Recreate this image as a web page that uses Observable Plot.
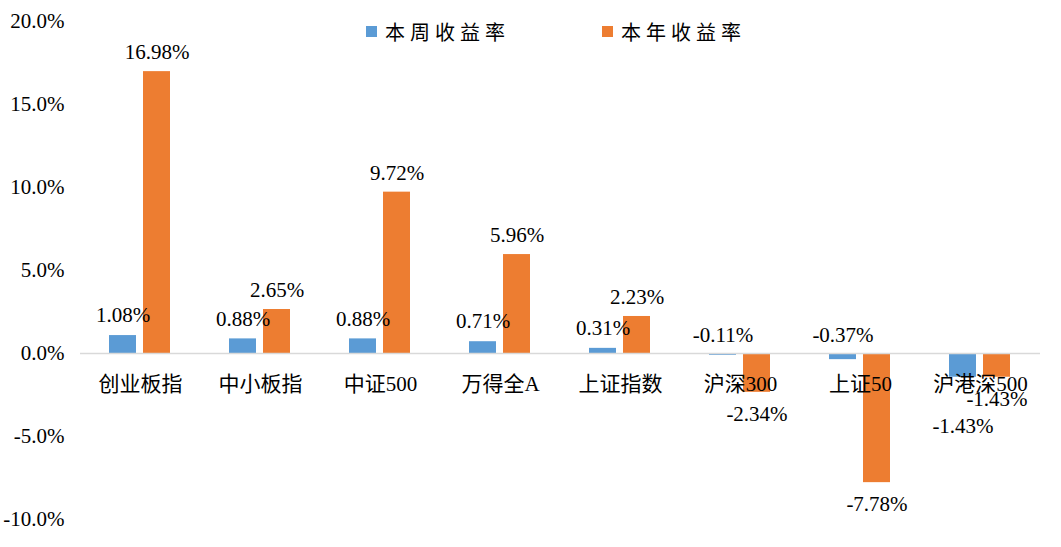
<!DOCTYPE html>
<html>
<head>
<meta charset="utf-8">
<script src="https://cdn.jsdelivr.net/npm/d3@7"></script>
<script src="https://cdn.jsdelivr.net/npm/@observablehq/plot@0.6"></script>
<style>
  body { margin: 0; background: #fff; }
  #wrap { position: relative; width: 1061px; height: 547px; }
  #legend { position: absolute; top: 17px; left: 366px; display: flex; font-family: "Liberation Serif", "Noto Sans CJK SC", serif; font-size: 20px; letter-spacing: 5px; color: #000; }
  .item { display: flex; align-items: center; }
  .sw { width: 11px; height: 11px; margin-right: 8px; }
</style>
</head>
<body>
<div id="wrap"><div id="legend"></div></div>
<script>
const categories = ["创业板指", "中小板指", "中证500", "万得全A", "上证指数", "沪深300", "上证50", "沪港深500"];
const weekly = [1.08, 0.88, 0.88, 0.71, 0.31, -0.11, -0.37, -1.43];
const ytd = [16.98, 2.65, 9.72, 5.96, 2.23, -2.34, -7.78, -1.43];
const seriesNames = ["本周收益率", "本年收益率"];
const seriesColors = ["#5B9BD5", "#ED7D31"];
const yTicks = [-10, -5, 0, 5, 10, 15, 20];

const rows = [];
categories.forEach((c, i) => {
  rows.push({cat: c, series: seriesNames[0], value: weekly[i]});
  rows.push({cat: c, series: seriesNames[1], value: ytd[i]});
});
const fmt = d => d.toFixed(2) + "%";
const isW = d => d.series === seriesNames[0];

const labelFont = {fontSize: 21, fill: "#000"};
const chart = Plot.plot({
  width: 1061,
  height: 547,
  marginLeft: 80,
  marginRight: 21,
  marginTop: 21,
  marginBottom: 28,
  style: {fontFamily: '"Liberation Serif", "Noto Sans CJK SC", serif', fontSize: "21px", color: "#000", background: "#fff"},
  fx: {domain: categories, padding: 0, axis: null},
  x: {domain: seriesNames, paddingInner: 0.2, paddingOuter: 0.84, axis: null},
  y: {domain: [-10, 20], ticks: yTicks, tickFormat: d => d.toFixed(1) + "%", tickSize: 0, tickPadding: 16, label: null},
  color: {domain: seriesNames, range: seriesColors},
  marks: [
    Plot.barY(rows, {fx: "cat", x: "series", y: "value", fill: "series"}),
    Plot.ruleY([0], {stroke: "#d9d9d9", strokeWidth: 1.5}),
    Plot.text(categories, {fx: d => d, y: () => 0, text: d => d, dy: 31, fontSize: 21, fill: "#000", style: "letter-spacing:4px"}),
    // positive labels
    Plot.text(rows.filter(d => d.value >= 0 && isW(d)), {fx: "cat", x: "series", y: "value", text: d => fmt(d.value), dy: -20, ...labelFont}),
    Plot.text(rows.filter(d => d.value >= 0 && !isW(d)), {fx: "cat", x: "series", y: "value", text: d => fmt(d.value), dy: -19, ...labelFont}),
    // small negative weekly labels sit above the zero line
    Plot.text(rows.filter(d => d.value < 0 && d.value > -1 && isW(d)), {fx: "cat", x: "series", y: () => 0, text: d => fmt(d.value), dy: -18, ...labelFont}),
    Plot.text(rows.filter(d => d.value <= -1 && isW(d)), {fx: "cat", x: "series", y: "value", text: d => fmt(d.value), dy: 49, ...labelFont}),
    Plot.text(rows.filter(d => d.value < 0 && !isW(d)), {fx: "cat", x: "series", y: "value", text: d => fmt(d.value), dy: 22, ...labelFont})
  ]
});
document.getElementById("wrap").prepend(chart);

const legend = document.getElementById("legend");
seriesNames.forEach((s, i) => {
  const it = document.createElement("div");
  it.className = "item";
  if (i > 0) it.style.marginLeft = "92px";
  const sw = document.createElement("div");
  sw.className = "sw";
  sw.style.background = seriesColors[i];
  const t = document.createElement("span");
  t.textContent = s;
  it.append(sw, t);
  legend.append(it);
});
</script>
</body>
</html>
